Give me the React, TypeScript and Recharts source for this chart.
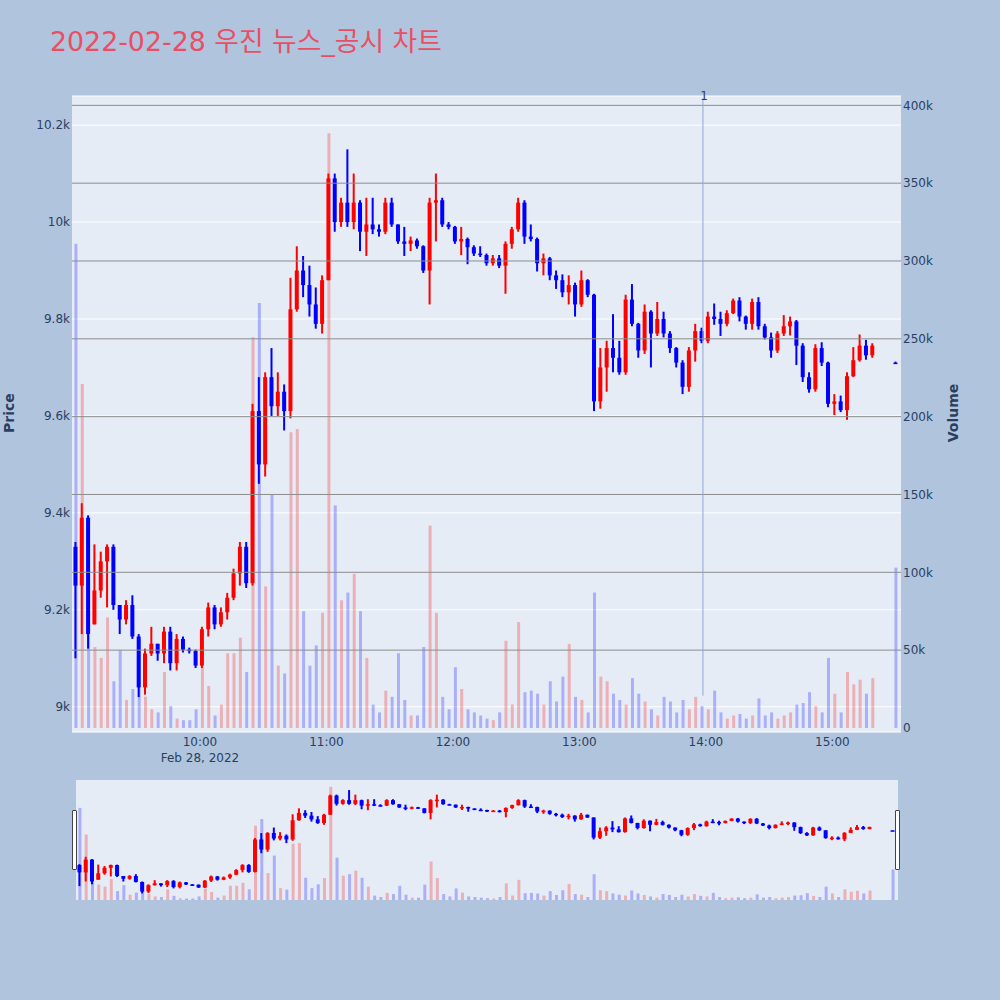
import { ComposedChart, Bar, XAxis, YAxis, CartesianGrid, Cell, ReferenceLine } from 'recharts'

// minutes after 09:00, one candle per 3 minutes, last one is the 15:30 close
const minutes = [
  1, 4, 7, 10, 13, 16, 19, 22, 25, 28, 31, 34, 37, 40, 43, 46, 49, 52, 55, 58,
  61, 64, 67, 70, 73, 76, 79, 82, 85, 88, 91, 94, 97, 100, 103, 106, 109, 112, 115, 118,
  121, 124, 127, 130, 133, 136, 139, 142, 145, 148, 151, 154, 157, 160, 163, 166, 169, 172, 175, 178,
  181, 184, 187, 190, 193, 196, 199, 202, 205, 208, 211, 214, 217, 220, 223, 226, 229, 232, 235, 238,
  241, 244, 247, 250, 253, 256, 259, 262, 265, 268, 271, 274, 277, 280, 283, 286, 289, 292, 295, 298,
  301, 304, 307, 310, 313, 316, 319, 322, 325, 328, 331, 334, 337, 340, 343, 346, 349, 352, 355, 358,
  361, 364, 367, 370, 373, 376, 379, 390,
]

const openPx = [
  9330, 9250, 9390, 9170, 9240, 9300, 9330, 9210, 9180, 9210,
  9145, 9040, 9110, 9130, 9110, 9155, 9090, 9140, 9118, 9115,
  9085, 9160, 9205, 9170, 9195, 9225, 9275, 9330, 9255, 9610,
  9500, 9680, 9620, 9650, 9610, 9820, 9900, 9870, 9830, 9790,
  9880, 10090, 10000, 10040, 10000, 10040, 9980, 9995, 9985, 9980,
  10040, 9995, 9960, 9955, 9962, 9950, 9900, 10040, 10045, 9995,
  9990, 9960, 9965, 9948, 9935, 9932, 9915, 9925, 9910, 9955,
  9985, 10040, 9970, 9965, 9915, 9925, 9890, 9880, 9855, 9870,
  9830, 9880, 9850, 9630, 9700, 9740, 9720, 9690, 9840, 9790,
  9735, 9815, 9770, 9800, 9770, 9740, 9710, 9660, 9735, 9775,
  9755, 9805, 9800, 9790, 9812, 9838, 9805, 9790, 9835, 9785,
  9762, 9735, 9770, 9785, 9795, 9745, 9680, 9655, 9740, 9710,
  9625, 9630, 9612, 9682, 9715, 9745, 9725, 9710,
]

const highPx = [
  9340, 9420, 9395, 9335, 9320, 9335, 9335, 9210, 9220, 9230,
  9150, 9120, 9165, 9130, 9165, 9165, 9150, 9145, 9122, 9118,
  9165, 9215, 9210, 9205, 9235, 9285, 9340, 9340, 9625, 9680,
  9690, 9740, 9690, 9665, 9885, 9950, 9930, 9910, 9865, 9890,
  10100, 10100, 10050, 10150, 10100, 10045, 10050, 10050, 9995, 10050,
  10050, 9995, 9990, 9970, 9966, 9952, 10050, 10100, 10050, 10000,
  9992, 9990, 9968, 9952, 9950, 9935, 9932, 9932, 9960, 9990,
  10050, 10045, 9995, 9968, 9935, 9928, 9900, 9892, 9890, 9875,
  9900, 9882, 9852, 9740, 9755, 9810, 9755, 9850, 9872, 9792,
  9830, 9818, 9835, 9815, 9775, 9742, 9715, 9742, 9790, 9782,
  9815, 9832, 9815, 9818, 9842, 9845, 9807, 9842, 9845, 9790,
  9772, 9775, 9808, 9805, 9798, 9750, 9690, 9748, 9752, 9712,
  9645, 9642, 9690, 9742, 9768, 9757, 9750, 9712,
]

const lowPx = [
  9100, 9150, 9120, 9170, 9225, 9205, 9200, 9150, 9170, 9140,
  9020, 9025, 9105, 9095, 9090, 9075, 9075, 9112, 9110, 9080,
  9080, 9145, 9160, 9165, 9180, 9220, 9250, 9245, 9250, 9460,
  9475, 9600, 9600, 9570, 9595, 9815, 9845, 9805, 9780, 9770,
  9880, 9980, 9990, 9990, 9985, 9940, 9930, 9975, 9970, 9975,
  9990, 9955, 9930, 9940, 9945, 9895, 9830, 9960, 9990, 9985,
  9955, 9932, 9913, 9930, 9928, 9910, 9910, 9905, 9852, 9945,
  9980, 9955, 9960, 9898, 9890, 9880, 9862, 9845, 9830, 9805,
  9825, 9845, 9610, 9615, 9650, 9690, 9685, 9685, 9785, 9720,
  9728, 9700, 9765, 9762, 9730, 9700, 9645, 9650, 9712, 9750,
  9750, 9788, 9765, 9785, 9810, 9795, 9778, 9778, 9778, 9758,
  9720, 9730, 9765, 9766, 9705, 9670, 9648, 9650, 9703, 9618,
  9602, 9608, 9592, 9680, 9712, 9716, 9720, 9708,
]

const closePx = [
  9250, 9390, 9150, 9240, 9300, 9330, 9210, 9180, 9210, 9145,
  9040, 9110, 9130, 9110, 9155, 9090, 9140, 9118, 9115, 9085,
  9160, 9205, 9170, 9195, 9225, 9275, 9330, 9255, 9610, 9500,
  9680, 9620, 9650, 9610, 9820, 9900, 9870, 9830, 9790, 9880,
  10090, 10000, 10040, 10000, 10040, 9980, 9995, 9985, 9980, 10040,
  9995, 9960, 9955, 9962, 9950, 9900, 10040, 10045, 9995, 9990,
  9960, 9965, 9948, 9935, 9932, 9915, 9925, 9910, 9955, 9985,
  10040, 9970, 9965, 9915, 9925, 9890, 9880, 9855, 9870, 9830,
  9880, 9850, 9630, 9700, 9740, 9720, 9690, 9840, 9790, 9735,
  9815, 9770, 9800, 9770, 9740, 9710, 9660, 9735, 9775, 9755,
  9805, 9800, 9790, 9812, 9838, 9805, 9790, 9835, 9785, 9762,
  9735, 9770, 9785, 9795, 9745, 9680, 9655, 9740, 9710, 9625,
  9630, 9612, 9682, 9715, 9745, 9725, 9745, 9710,
]

const volume = [
  311000, 221000, 60000, 52000, 45000, 71000, 30000, 50000, 18000, 25000,
  57000, 20000, 12000, 10000, 36000, 14000, 6000, 5000, 5000, 12000,
  39000, 27000, 8000, 15000, 48000, 48000, 58000, 36000, 251000, 273000,
  91000, 150000, 40000, 35000, 190000, 192000, 75000, 40000, 53000, 74000,
  382000, 143000, 82000, 87000, 99000, 75000, 45000, 15000, 10000, 24000,
  20000, 48000, 18000, 8000, 8000, 52000, 130000, 74000, 20000, 12000,
  39000, 25000, 12000, 10000, 8000, 6000, 5000, 10000, 56000, 15000,
  68000, 23000, 24000, 22000, 15000, 30000, 17000, 33000, 54000, 20000,
  18000, 10000, 87000, 33000, 30000, 22000, 18000, 15000, 32000, 22000,
  17000, 12000, 8000, 20000, 17000, 10000, 18000, 12000, 20000, 14000,
  12000, 24000, 10000, 6000, 8000, 9000, 6000, 8000, 19000, 8000,
  10000, 6000, 8000, 10000, 15000, 16000, 23000, 14000, 10000, 45000,
  22000, 10000, 36000, 28000, 31000, 22000, 32000, 103000,
]

const priceTicks = [9000, 9200, 9400, 9600, 9800, 10000, 10200]
const volumeTicks = [0, 50000, 100000, 150000, 200000, 250000, 300000, 350000, 400000]
const hourTicks = [60, 120, 180, 240, 300, 360]
const newsMinute = 298.6

const UP = '#ff0000'
const DOWN = '#0000ff'
const INK = '#2a3f5f'
const FONT = "'DejaVu Sans', 'Noto Sans CJK KR', sans-serif"
const X_DOMAIN: [number, number] = [-0.71, 392.55]
const PRICE_DOMAIN: [number, number] = [8948, 10260]

const rows = minutes.map((m, i) => ({
  m,
  open: openPx[i],
  high: highPx[i],
  low: lowPx[i],
  close: closePx[i],
  vol: volume[i],
  span: [lowPx[i], highPx[i]],
}))

const fmtPrice = (v: number) => (v / 1000).toFixed(1).replace('.0', '') + 'k'
const fmtVol = (v: number) => (v === 0 ? '0' : v / 1000 + 'k')

function candle(bodyW: number, wickW: number) {
  return (p: any) => {
    const { x, width, payload } = p
    let { y, height } = p
    if (height < 0) {
      y += height
      height = -height
    }
    const { open, close, high, low } = payload
    const color = close > open ? UP : DOWN
    const cx = x + width / 2
    const k = high > low ? height / (high - low) : 0
    const top = y + (high - Math.max(open, close)) * k
    const bot = y + (high - Math.min(open, close)) * k
    return (
      <g>
        <line x1={cx} x2={cx} y1={y} y2={y + height} stroke={color} strokeWidth={wickW} />
        <rect x={cx - bodyW / 2} y={top} width={bodyW} height={Math.max(bot - top, 1.5)} fill={color} />
      </g>
    )
  }
}

const TimeTick = (p: any) => {
  const { x, y, payload } = p
  const h = 9 + payload.value / 60
  return (
    <g>
      <text x={x} y={y} dy={13.7} textAnchor="middle" fontSize={12} fill={INK} fontFamily={FONT}>
        {`${h}:00`}
      </text>
      {payload.value === 60 && (
        <text x={x} y={y} dy={30} textAnchor="middle" fontSize={12} fill={INK} fontFamily={FONT}>
          Feb 28, 2022
        </text>
      )}
    </g>
  )
}

const tickStyle = { fill: INK, fontSize: 12, fontFamily: FONT }

export default function App() {
  return (
    <div style={{ position: 'absolute', left: 0, top: 0, width: 1000, height: 1000, background: '#b0c4de', fontFamily: FONT }}>
      <div style={{ position: 'absolute', left: 50, top: 28, fontSize: 26.8, lineHeight: '27px', color: '#e94f64', whiteSpace: 'nowrap' }}>
        2022-02-28 우진 뉴스_공시 차트
      </div>

      <div style={{ position: 'absolute', left: 0, top: 0 }}>
        <ComposedChart width={1000} height={780} data={rows} margin={{ top: 96, right: 39, bottom: 8, left: 22 }}>
          <CartesianGrid xAxisId="t" yAxisId="price" vertical={false} stroke="#ffffff" fill="#e5ecf6" />
          <XAxis
            xAxisId="t" dataKey="m" type="number" domain={X_DOMAIN} allowDataOverflow
            ticks={hourTicks} interval={0} tick={<TimeTick />} tickLine={false} axisLine={false}
            tickSize={0} tickMargin={0} height={40}
          />
          <XAxis xAxisId="v" dataKey="m" type="number" domain={X_DOMAIN} allowDataOverflow hide />
          <YAxis
            yAxisId="price" orientation="left" domain={PRICE_DOMAIN} allowDataOverflow ticks={priceTicks}
            interval={0} tickFormatter={fmtPrice} width={50} tickLine={false} axisLine={false}
            tickSize={0} tickMargin={2} tick={tickStyle}
          />
          <YAxis
            yAxisId="vol" orientation="right" domain={[-2600, 406000]} allowDataOverflow ticks={volumeTicks}
            interval={0} tickFormatter={fmtVol} width={60} tickLine={false} axisLine={false}
            tickSize={0} tickMargin={2} tick={{ ...tickStyle, textAnchor: 'start' }}
          />
          {volumeTicks.slice(1).map((v) => (
            <ReferenceLine key={v} xAxisId="v" yAxisId="vol" y={v} stroke="#8c8c8c" strokeWidth={1} />
          ))}
          <ReferenceLine
            xAxisId="t" yAxisId="price"
            segment={[{ x: newsMinute, y: 10255 }, { x: newsMinute, y: 9023 }]}
            stroke="#93a6d8" strokeWidth={1}
          />
          <Bar xAxisId="v" yAxisId="vol" dataKey="vol" barSize={3} fillOpacity={0.26} isAnimationActive={false}>
            {rows.map((r, i) => (
              <Cell key={i} fill={r.close > r.open ? UP : DOWN} />
            ))}
          </Bar>
          <Bar xAxisId="t" yAxisId="price" dataKey="span" barSize={4} shape={candle(4, 2)} isAnimationActive={false} />
        </ComposedChart>
      </div>

      <div style={{ position: 'absolute', left: 697, top: 89, width: 14, textAlign: 'center', fontSize: 12, lineHeight: '15px', color: INK }}>1</div>

      <div style={{ position: 'absolute', left: -21, top: 403, width: 60, textAlign: 'center', fontSize: 14, lineHeight: '20px', fontWeight: 700, color: INK, transform: 'rotate(-90deg)' }}>
        Price
      </div>
      <div style={{ position: 'absolute', left: 913, top: 403, width: 80, textAlign: 'center', fontSize: 14, lineHeight: '20px', fontWeight: 700, color: INK, transform: 'rotate(-90deg)' }}>
        Volume
      </div>

      <div style={{ position: 'absolute', left: 0, top: 780 }}>
        <ComposedChart width={1000} height={120} data={rows} margin={{ top: 0, right: 102, bottom: 0, left: 76 }}>
          <CartesianGrid xAxisId="t" yAxisId="price" horizontal={false} vertical={false} fill="#e5ecf6" />
          <XAxis xAxisId="t" dataKey="m" type="number" domain={X_DOMAIN} allowDataOverflow hide />
          <XAxis xAxisId="v" dataKey="m" type="number" domain={X_DOMAIN} allowDataOverflow hide />
          <YAxis yAxisId="price" domain={PRICE_DOMAIN} allowDataOverflow hide />
          <YAxis yAxisId="vol" orientation="right" domain={[0, 405000]} allowDataOverflow hide />
          <Bar xAxisId="v" yAxisId="vol" dataKey="vol" barSize={3} fillOpacity={0.26} isAnimationActive={false}>
            {rows.map((r, i) => (
              <Cell key={i} fill={r.close > r.open ? UP : DOWN} />
            ))}
          </Bar>
          <Bar xAxisId="t" yAxisId="price" dataKey="span" barSize={4} shape={candle(4, 2)} isAnimationActive={false} />
        </ComposedChart>
      </div>

      <div style={{ position: 'absolute', left: 72, top: 810, width: 3, height: 58, background: '#ffffff', border: '1px solid #444', borderRadius: 1 }} />
      <div style={{ position: 'absolute', left: 895, top: 810, width: 3, height: 58, background: '#ffffff', border: '1px solid #444', borderRadius: 1 }} />
    </div>
  )
}
